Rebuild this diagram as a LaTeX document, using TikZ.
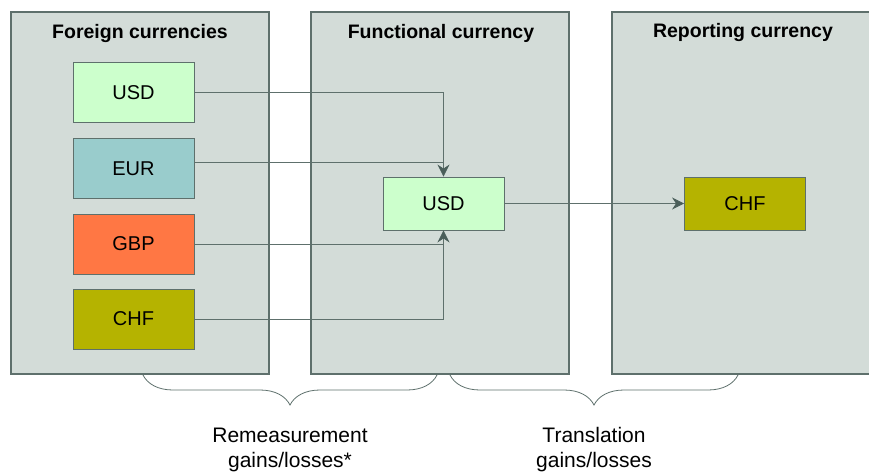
\documentclass[tikz,border=0pt]{standalone}
\usepackage{fontspec}
\setmainfont{Liberation Sans}
\usetikzlibrary{arrows.meta,decorations.pathreplacing}

\definecolor{panelfill}{HTML}{D3DCD8}
\definecolor{edgegray}{HTML}{5E706C}
\definecolor{tipgray}{HTML}{4A5E5A}
\definecolor{usdgreen}{HTML}{CCFFCC}
\definecolor{eurteal}{HTML}{99CCCC}
\definecolor{gbporange}{HTML}{FF7744}
\definecolor{chfolive}{HTML}{B5B300}

\begin{document}
\begin{tikzpicture}[x=1pt,y=-1pt,
  panel/.style={draw=edgegray,fill=panelfill,line width=1.2pt},
  currency/.style={draw=edgegray,line width=0.9pt,minimum width=121pt,minimum height=60pt,
    inner sep=0pt,font=\fontsize{20}{24}\selectfont},
  heading/.style={font=\fontsize{19.5}{23}\selectfont\bfseries},
  flow/.style={draw=edgegray,line width=0.8pt},
  tip/.style={-{Stealth[length=12pt,width=12pt,inset=4pt,color=tipgray]}},
  bracket/.style={draw=edgegray,line width=0.8pt,decorate,decoration={brace,mirror,amplitude=30pt}},
  note/.style={align=center,font=\fontsize{21}{25}\selectfont}]

\useasboundingbox (0,0) rectangle (869,471);

%% the three panels
\draw[panel] (11,12) rectangle (269,374);
\draw[panel] (311,12) rectangle (569,374);
\draw[panel] (612,12) rectangle (885,374);

\node[heading] (foreign) at (140,34) {Foreign currencies};
\node[heading] (functional) at (441,33) {Functional currency};
\node[heading] (reporting) at (743,33) {Reporting currency};

%% foreign currencies
\node[currency,fill=usdgreen] (usdF) at (133.5,92.5) {USD};
\node[currency,fill=eurteal] (eurF) at (133.5,168.5) {EUR};
\node[currency,fill=gbporange] (gbpF) at (133.5,244) {GBP};
\node[currency,fill=chfolive] (chfF) at (133.5,319) {CHF};

%% functional and reporting currency
\node[currency,fill=usdgreen,minimum height=53pt] (usdM) at (443.5,203.5) {USD};
\node[currency,fill=chfolive,minimum height=53pt] (chfR) at (745,203.5) {CHF};

%% the flows into the functional currency
\draw[flow,tip] (usdF.east) -| (usdM.north);
\draw[flow] ([yshift=6.5pt]eurF.east) -- ([yshift=6.5pt]eurF.east -| usdM.north);
\draw[flow] (gbpF.east) -- (gbpF.east -| usdM.south);
\draw[flow,tip] (chfF.east) -| (usdM.south);

%% translation into the reporting currency
\draw[flow,tip] (usdM.east) -- (chfR.west);

%% the braces below
\coordinate (remA) at (143,375);
\coordinate (remB) at (437,375);
\coordinate (traA) at (450,375);
\coordinate (traB) at (738,375);
\draw[bracket] (remA) -- (remB);
\draw[bracket] (traA) -- (traB);

\node[note] (remeasure) at (290,450) {Remeasurement\\gains/losses*};
\node[note] (translate) at (594,450) {Translation\\gains/losses};

\end{tikzpicture}
\end{document}
